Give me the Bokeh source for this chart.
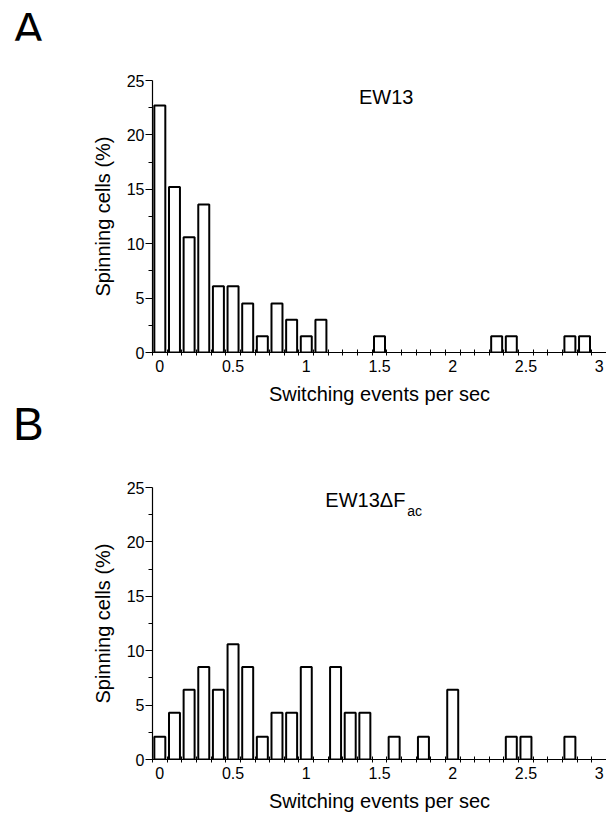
from bokeh.plotting import figure
from bokeh.layouts import column
from bokeh.models import FixedTicker, Range1d, Label, Div
from bokeh.embed import file_html
from bokeh.resources import INLINE

# ---- data (percent of spinning cells per switching-rate bin) ----
a_rate = [0.0, 0.1, 0.2, 0.3, 0.4, 0.5, 0.6, 0.7, 0.8, 0.9, 1.0, 1.1, 1.5, 2.3, 2.4, 2.8, 2.9]
a_pct = [22.7, 15.2, 10.6, 13.6, 6.1, 6.1, 4.5, 1.5, 4.5, 3.0, 1.5, 3.0, 1.5, 1.5, 1.5, 1.5, 1.5]

b_rate = [0.0, 0.1, 0.2, 0.3, 0.4, 0.5, 0.6, 0.7, 0.8, 0.9, 1.0, 1.2, 1.3, 1.4, 1.6, 1.8, 2.0, 2.4, 2.5, 2.8]
b_pct = [2.1, 4.3, 6.4, 8.5, 6.4, 10.6, 8.5, 2.1, 4.3, 4.3, 8.5, 8.5, 4.3, 4.3, 2.1, 2.1, 6.4, 2.1, 2.1, 2.1]

x_tick_vals = [0, 0.5, 1, 1.5, 2, 2.5, 3]
x_tick_text = {0: "0", 0.5: "0.5", 1: "1", 1.5: "1.5", 2: "2", 2.5: "2.5", 3: "3"}
x_minor = [round(-0.05 + 0.1 * k, 2) for k in range(32)]
y_tick_vals = [0, 5, 10, 15, 20, 25]
y_minor = [2.5, 7.5, 12.5, 17.5, 22.5]

FONT = "Liberation Sans"


def letter_div(letter, top_shift, height):
    html = ('<div style="position:relative; top:%dpx; left:13px; font-family:\'Liberation Sans\', Arial, sans-serif; '
            'font-size:46px; line-height:0.8; color:black;">%s</div>' % (top_shift, letter))
    return Div(text=html, width=600, height=height, margin=0)


def make_panel(rates, pcts, height, top_border, bottom_border):
    p = figure(width=606, height=height, output_backend="svg", toolbar_location=None,
               x_range=Range1d(-0.05, 3.05), y_range=Range1d(0, 25),
               min_border_left=152, min_border_right=0,
               min_border_top=top_border, min_border_bottom=bottom_border)
    p.margin = 0
    p.outline_line_color = None
    p.xgrid.visible = False
    p.ygrid.visible = False
    p.background_fill_color = "white"
    p.border_fill_color = "white"

    p.vbar(x=rates, top=pcts, width=0.075, bottom=0,
           fill_color="white", line_color="black", line_width=2)

    xa = p.xaxis[0]
    xa.ticker = FixedTicker(ticks=x_tick_vals, minor_ticks=x_minor)
    xa.major_label_overrides = x_tick_text
    xa.major_tick_out = 0
    xa.major_tick_in = 0
    xa.minor_tick_out = 3
    xa.minor_tick_in = 3
    xa.major_label_standoff = 4
    xa.axis_label = "Switching events per sec"
    xa.axis_label_standoff = 8

    ya = p.yaxis[0]
    ya.ticker = FixedTicker(ticks=y_tick_vals, minor_ticks=y_minor)
    ya.major_tick_out = 7
    ya.major_tick_in = 0
    ya.minor_tick_out = 4
    ya.minor_tick_in = 0
    ya.major_label_standoff = 1
    ya.axis_label = "Spinning cells (%)"
    ya.axis_label_standoff = 10

    for ax in (xa, ya):
        ax.axis_line_color = "black"
        ax.axis_line_width = 1.2
        ax.major_tick_line_color = "black"
        ax.minor_tick_line_color = "black"
        ax.major_label_text_font = FONT
        ax.major_label_text_font_size = "16px"
        ax.major_label_text_color = "black"
        ax.axis_label_text_font = FONT
        ax.axis_label_text_font_size = "20px"
        ax.axis_label_text_font_style = "normal"
        ax.axis_label_text_color = "black"
    return p


div_a = letter_div("A", 11, 40)
pa = make_panel(a_rate, a_pct, 368, 40, 56)
pa.add_layout(Label(x=1.36, y=22.5, text="EW13", text_font=FONT,
                    text_font_size="20px", text_color="black"))

div_b = letter_div("B", -2, 38)
pb = make_panel(b_rate, b_pct, 368, 41, 55)
pb.add_layout(Label(x=1.13, y=22.8, text="EW13\u0394F", text_font=FONT,
                    text_font_size="20px", text_color="black"))
pb.add_layout(Label(x=1.69, y=22.15, text="ac", text_font=FONT,
                    text_font_size="14px", text_color="black"))

layout = column(div_a, pa, div_b, pb, spacing=0)
open("out.html", "w").write(file_html(layout, INLINE))
